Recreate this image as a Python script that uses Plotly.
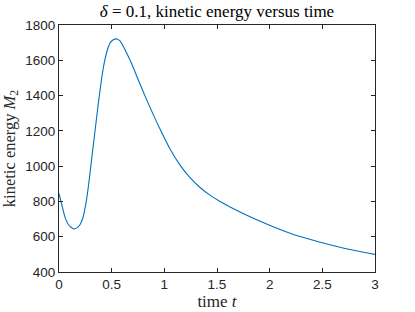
import plotly.graph_objects as go

t = [0, 0.03, 0.057, 0.09, 0.136, 0.17, 0.199, 0.225, 0.25, 0.278, 0.31, 0.342,
     0.373, 0.405, 0.437, 0.468, 0.49, 0.516, 0.55, 0.579, 0.627, 0.69, 0.753, 0.817,
     0.88, 0.959, 1.054, 1.149, 1.244, 1.339, 1.434, 1.529, 1.624, 1.719, 1.861,
     2.051, 2.241, 2.431, 2.526, 2.716, 3.0]
M2 = [845, 772, 711, 668, 645, 650, 668, 703, 770, 880, 1040, 1200,
      1354, 1498, 1608, 1675, 1703, 1717, 1721, 1710, 1660, 1580, 1488, 1397,
      1312, 1210, 1097, 1006, 935, 879, 836, 800, 769, 740, 700,
      652, 610, 577, 561, 533, 500]

xticks = [0, 0.5, 1, 1.5, 2, 2.5, 3]
xticklabels = ["0", "0.5", "1", "1.5", "2", "2.5", "3"]
yticks = [400, 600, 800, 1000, 1200, 1400, 1600, 1800]

axcol = "#262626"
serif = "Liberation Serif, DejaVu Serif, serif"
sans = "Liberation Sans, Arial, sans-serif"

fig = go.Figure()
fig.add_trace(go.Scatter(x=t, y=M2, mode="lines",
                         line=dict(color="#0072BD", width=1.1, shape="spline", smoothing=0.5),
                         hoverinfo="skip"))

fig.update_layout(
    width=415, height=312,
    margin=dict(l=59, r=40, t=25, b=40, autoexpand=False),
    paper_bgcolor="white", plot_bgcolor="white",
    showlegend=False,
    title=dict(text="<i>δ</i> = 0.1, kinetic energy versus time", x=217 / 415, xanchor="center",
               xref="container",
               y=1 - 11 / 312, yanchor="middle",
               font=dict(family=serif, size=17, color="black")),
)
fig.update_xaxes(range=[0, 3], tickvals=xticks, ticktext=xticklabels, automargin=False,
                 showgrid=False, zeroline=False, showline=True, linecolor=axcol, linewidth=1,
                 mirror="allticks", ticks="inside", ticklen=4, tickcolor=axcol,
                 tickfont=dict(family=sans, size=13.5, color=axcol),
                 title=dict(text="time <i>t</i>", standoff=1,
                            font=dict(family=serif, size=17, color=axcol)))
fig.update_yaxes(range=[400, 1800], tickvals=yticks, automargin=False,
                 showgrid=False, zeroline=False, showline=True, linecolor=axcol, linewidth=1,
                 mirror="allticks", ticks="inside", ticklen=4, tickcolor=axcol,
                 tickfont=dict(family=sans, size=13.5, color=axcol),
                 title=dict(text="kinetic energy <i>M</i><sub>2</sub>", standoff=5,
                            font=dict(family=serif, size=16.5, color=axcol)))

fig.write_html("out.html", config={"displayModeBar": False},
               post_script="document.body.style.margin='0';")
